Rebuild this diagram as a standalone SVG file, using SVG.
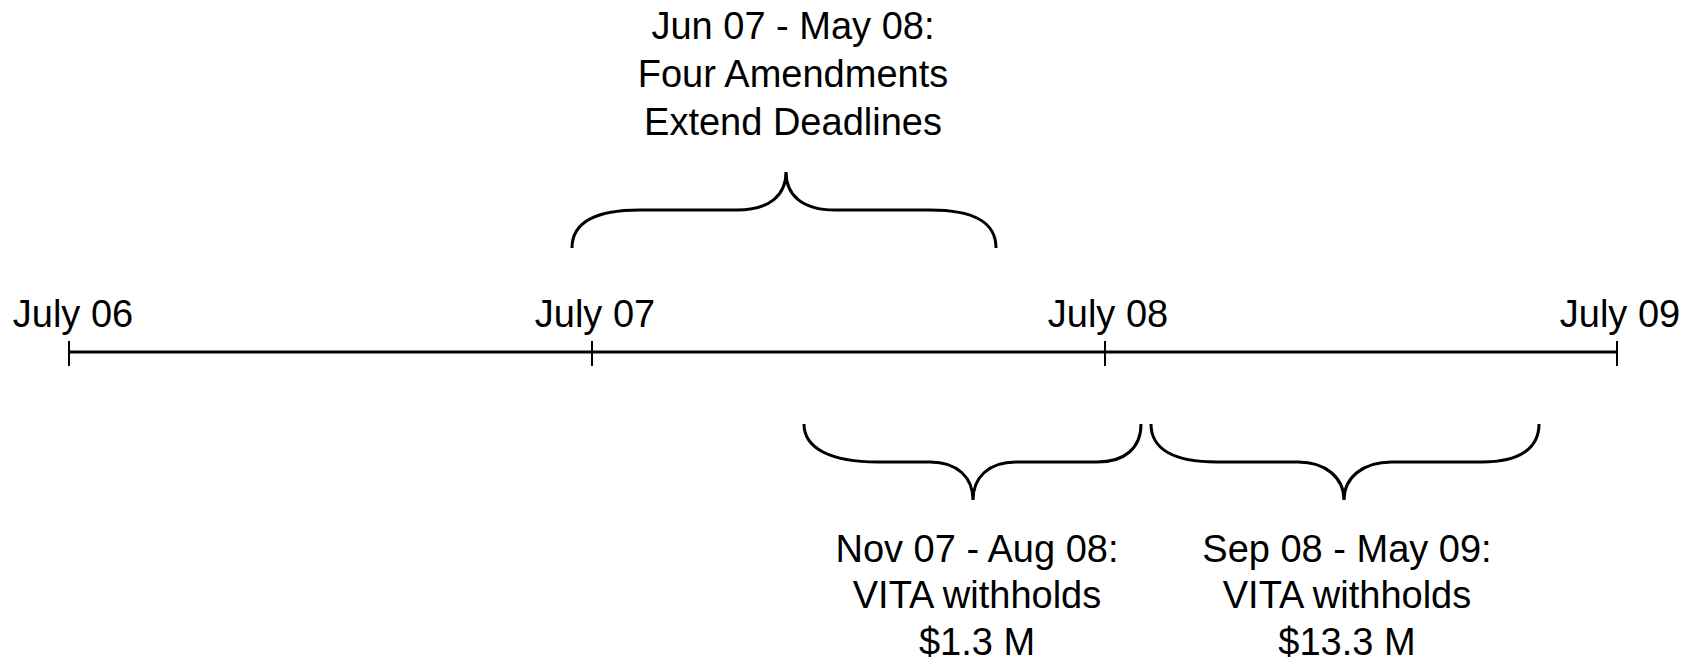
<svg xmlns="http://www.w3.org/2000/svg" width="1693" height="661" viewBox="0 0 1693 661">
<style>
text{font-family:"Liberation Sans",Arial,sans-serif;font-size:38px;fill:#000;text-anchor:middle}
.axis{stroke:#000;stroke-width:3;fill:none}
.tick{stroke:#000;stroke-width:2;fill:none}
.brace{stroke:#000;stroke-width:3;fill:none}
</style>
<rect width="1693" height="661" fill="#fff"/>
<g id="connectors">
<line class="axis" x1="69" y1="352" x2="1617" y2="352"/>
</g>
<g id="tick-july06"><line class="tick" x1="69" y1="341" x2="69" y2="366"/><text x="73" y="327">July 06</text></g>
<g id="tick-july07"><line class="tick" x1="592" y1="341" x2="592" y2="366"/><text x="595" y="327">July 07</text></g>
<g id="tick-july08"><line class="tick" x1="1105" y1="341" x2="1105" y2="366"/><text x="1108" y="327">July 08</text></g>
<g id="tick-july09"><line class="tick" x1="1617" y1="341" x2="1617" y2="366"/><text x="1620" y="327">July 09</text></g>
<g id="brace-amendments">
<path class="brace" d="M572,248 C572,222 596,210 640,210 L737,210 C770,210 786,195 786,172 C786,195 802,210 835,210 L930,210 C974,210 996,222 996,248"/>
<text x="793" y="39">Jun 07 - May 08:</text>
<text x="793" y="87">Four Amendments</text>
<text x="793" y="135">Extend Deadlines</text>
</g>
<g id="brace-withhold-1">
<path class="brace" d="M804,424 C804,448 830,462 878,462 L930,462 C958,462 973,478 973,500 C973,478 988,462 1016,462 L1097,462 C1125,462 1141,448 1141,424"/>
<text x="977" y="562">Nov 07 - Aug 08:</text>
<text x="977" y="608">VITA withholds</text>
<text x="977" y="655">$1.3 M</text>
</g>
<g id="brace-withhold-2">
<path class="brace" d="M1151,424 C1151,448 1172,462 1217,462 L1298,462 C1326,462 1344,478 1344,500 C1344,478 1362,462 1392,462 L1482,462 C1520,462 1539,448 1539,424"/>
<text x="1347" y="562">Sep 08 - May 09:</text>
<text x="1347" y="608">VITA withholds</text>
<text x="1347" y="655">$13.3 M</text>
</g>
</svg>
